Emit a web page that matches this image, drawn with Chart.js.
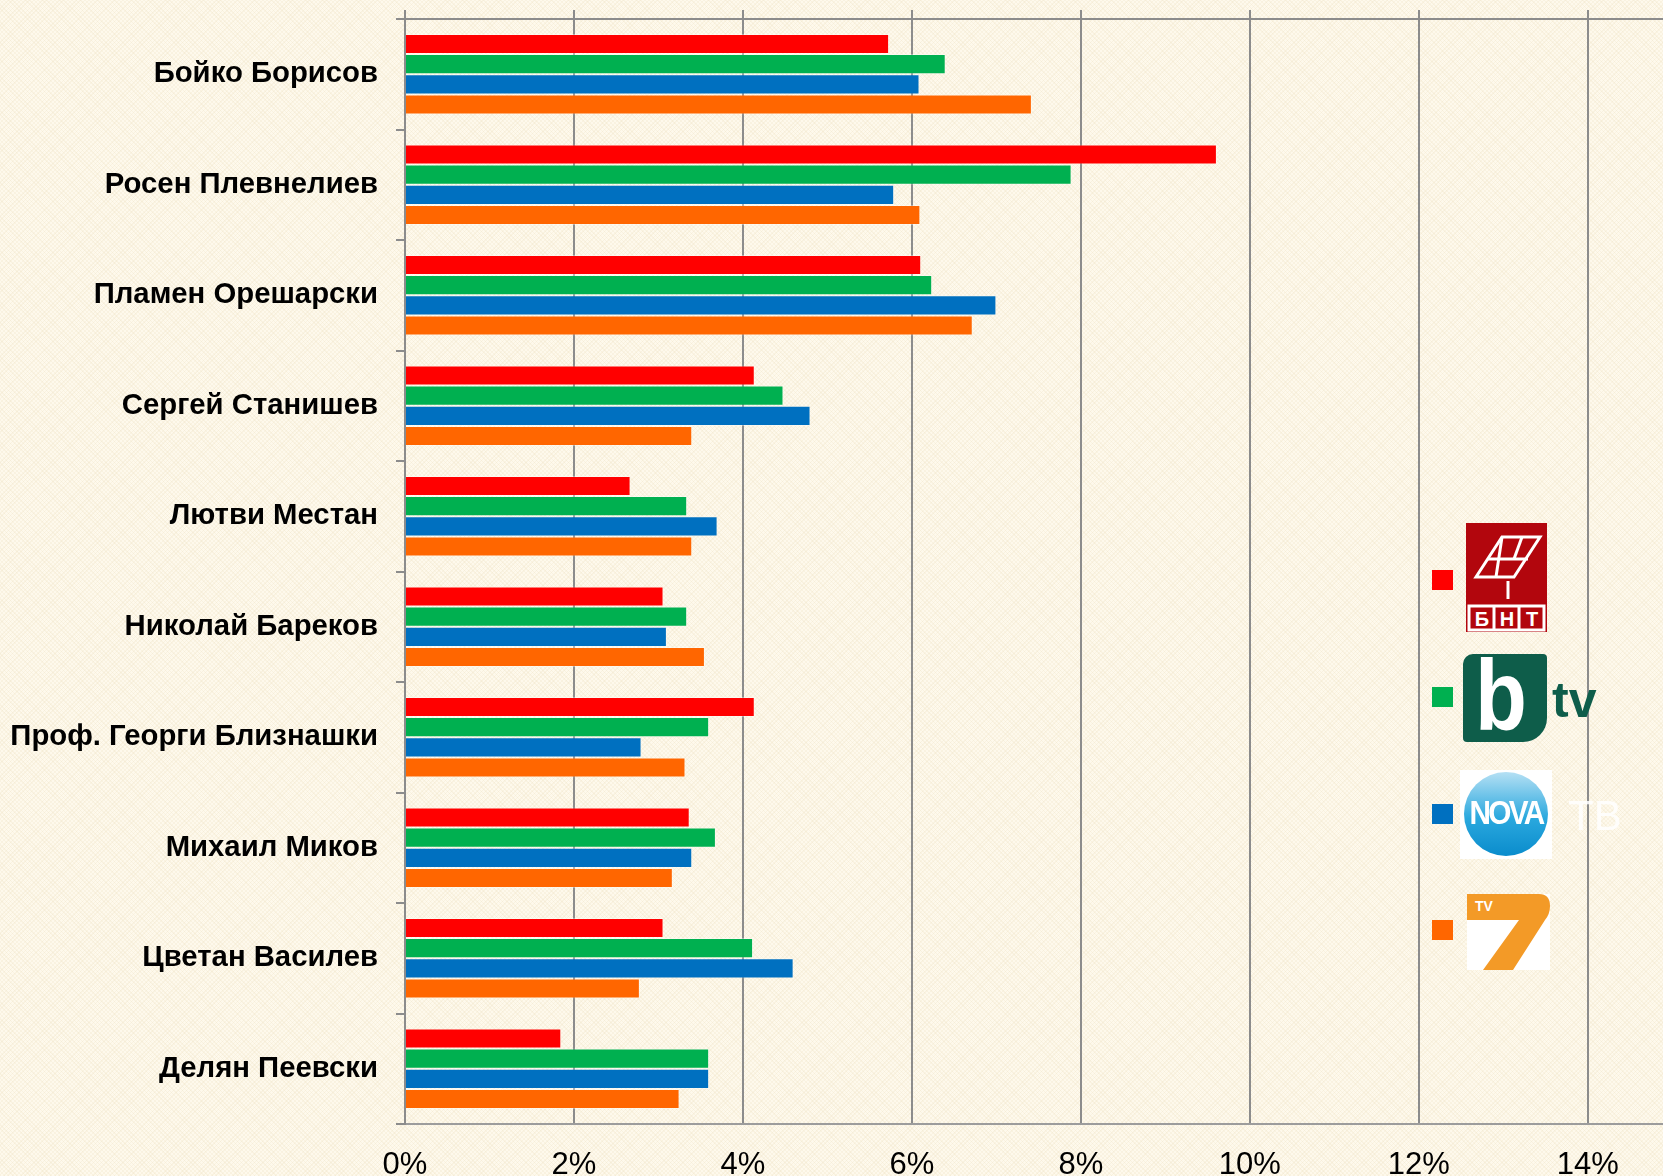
<!DOCTYPE html>
<html>
<head>
<meta charset="utf-8">
<script src="https://cdn.jsdelivr.net/npm/chart.js"></script>
<style>
body{margin:0;width:1663px;height:1176px;overflow:hidden;
  background-color:#fef9ec;
  background-image:repeating-linear-gradient(45deg,rgba(235,222,190,0.25) 0 1px,transparent 1px 3px),
                   repeating-linear-gradient(-45deg,rgba(235,222,190,0.25) 0 1px,transparent 1px 3px);}
#wrap{position:relative;width:1663px;height:1176px}
.sq{position:absolute;left:1432px;width:21px;height:20px}
.logo{position:absolute;font-family:"Liberation Sans",Arial,sans-serif}
</style>
</head>
<body>
<div id="wrap">
  <canvas id="myChart"></canvas>

  <div class="sq" style="top:570px;background:#ff0000"></div>
  <div class="sq" style="top:687px;background:#00b050"></div>
  <div class="sq" style="top:804px;background:#0070c0"></div>
  <div class="sq" style="top:920px;background:#ff6600"></div>

  <!-- BNT -->
  <div class="logo" style="left:1466px;top:523px;width:81px;height:109px;background:#b2060d">
    <svg width="81" height="109" viewBox="0 0 81 109" style="position:absolute;left:0;top:0">
      <g fill="none" stroke="#fff" stroke-width="3">
        <polygon points="10,54 36,14 74,14 48,54"/>
        <line x1="22" y1="36" x2="62" y2="36"/>
        <line x1="36" y1="14" x2="30" y2="54"/>
        <line x1="56" y1="14" x2="48" y2="36"/>
        <line x1="42" y1="58" x2="42" y2="76"/>
        <rect x="3" y="83" width="75" height="24"/>
        <line x1="28" y1="83" x2="28" y2="107"/>
        <line x1="53" y1="83" x2="53" y2="107"/>
      </g>
      <g fill="#fff" font-family="Liberation Sans, Arial" font-weight="bold" font-size="20" text-anchor="middle">
        <text x="16" y="103">Б</text><text x="41" y="103">Н</text><text x="66" y="103">Т</text>
      </g>
    </svg>
  </div>

  <!-- bTV -->
  <div class="logo" style="left:1463px;top:654px;width:84px;height:88px;background:#0e5d4a;border-radius:10px 4px 24px 4px;overflow:hidden">
    <div style="position:absolute;left:12px;top:-16px;color:#fff;font-weight:bold;font-size:100px;transform:scaleX(0.85);transform-origin:left top">b</div>
  </div>
  <div class="logo" style="left:1552px;top:670px;color:#0e5d4a;font-weight:bold;font-size:50px;line-height:60px">tv</div>

  <!-- NOVA -->
  <div class="logo" style="left:1460px;top:770px;width:92px;height:89px;background:#fff">
    <div style="position:absolute;left:4px;top:2px;width:84px;height:84px;border-radius:50%;background:linear-gradient(#b5e0f4,#2aa8de 55%,#0a8ccc)"></div>
    <div style="position:absolute;left:0;top:24px;width:92px;text-align:center;color:#fff;font-weight:bold;font-size:33px;letter-spacing:-3px;transform:scaleX(0.9)">NOVA</div>
  </div>
  <div class="logo" style="left:1568px;top:792px;color:#fff;font-size:42px;opacity:0.85">ТВ</div>

  <!-- TV7 -->
  <div class="logo" style="left:1467px;top:894px;width:83px;height:76px;background:#fff">
    <svg width="83" height="76" viewBox="0 0 83 76" style="position:absolute;left:0;top:0">
      <path d="M0,0 H72 Q83,0 83,12 Q83,20 78,26 L46,76 H16 L52,26 H0 Z" fill="#f39a27"/>
      <text x="8" y="17" fill="#fff" font-family="Liberation Sans, Arial" font-weight="bold" font-size="14">TV</text>
    </svg>
  </div>
</div>

<script>
const categories=["Бойко Борисов","Росен Плевнелиев","Пламен Орешарски","Сергей Станишев","Лютви Местан","Николай Бареков","Проф. Георги Близнашки","Михаил Миков","Цветан Василев","Делян Пеевски"];
const bnt=[5.73,9.61,6.11,4.14,2.67,3.06,4.14,3.37,3.06,1.85];
const btv=[6.40,7.89,6.24,4.48,3.34,3.34,3.60,3.68,4.12,3.60];
const nova=[6.09,5.79,7.00,4.80,3.70,3.10,2.80,3.40,4.60,3.60];
const tv7=[7.42,6.10,6.72,3.40,3.40,3.55,3.32,3.17,2.78,3.25];
const xTicks=[0,2,4,6,8,10,12,14];

const xMax=14.89;
const gridGray="#8c8c8c";
const font="Liberation Sans, Arial, sans-serif";

function bars(label,data,color){
    return {label:label,data:data,backgroundColor:color,borderColor:"rgba(255,255,255,0.35)",borderWidth:1,
        categoryPercentage:0.73,barPercentage:1}
}

let barChart=new Chart("myChart",{
    type:"bar",
    data:{
     labels:categories,
     datasets:[
        bars("БНТ",bnt,"#ff0000"),
        bars("bTV",btv,"#00b050"),
        bars("NOVA",nova,"#0070c0"),
        bars("TV7",tv7,"#ff6600")
     ]
    },
    options:{
      indexAxis:"y",
      responsive:true,
      maintainAspectRatio:false,
      animation:false,
      layout:{padding:{top:10,left:0,right:0,bottom:0}},
      plugins:{legend:{display:false},tooltip:{enabled:false}},
      scales:{
        x:{
          type:"linear",position:"bottom",min:0,max:xMax,
          afterBuildTicks:s=>{s.ticks=xTicks.map(v=>({value:v}))},
          afterFit:s=>{s.height=52;s.paddingLeft=0;s.paddingRight=0},
          grid:{color:gridGray,lineWidth:2,drawTicks:false},
          border:{color:"#9c9c9c",width:2},
          ticks:{padding:23,color:"#000",font:{family:font,size:31},callback:v=>v+"%"}
        },
        x2:{
          type:"linear",position:"top",min:0,max:xMax,
          afterBuildTicks:s=>{s.ticks=xTicks.map(v=>({value:v}))},
          afterFit:s=>{s.height=9;s.paddingLeft=0;s.paddingRight=0},
          grid:{drawOnChartArea:false,tickLength:9,color:gridGray,lineWidth:2},
          border:{color:gridGray,width:2},
          ticks:{display:false}
        },
        y:{
          afterFit:s=>{s.width=405;s.paddingTop=0;s.paddingBottom=0},
          grid:{offset:true,drawOnChartArea:false,tickLength:9,color:gridGray,lineWidth:2},
          border:{color:gridGray,width:2},
          ticks:{padding:18,color:"#000",font:{family:font,size:29.3,weight:"bold"}}
        }
      }
    }
})
</script>
</body>
</html>
